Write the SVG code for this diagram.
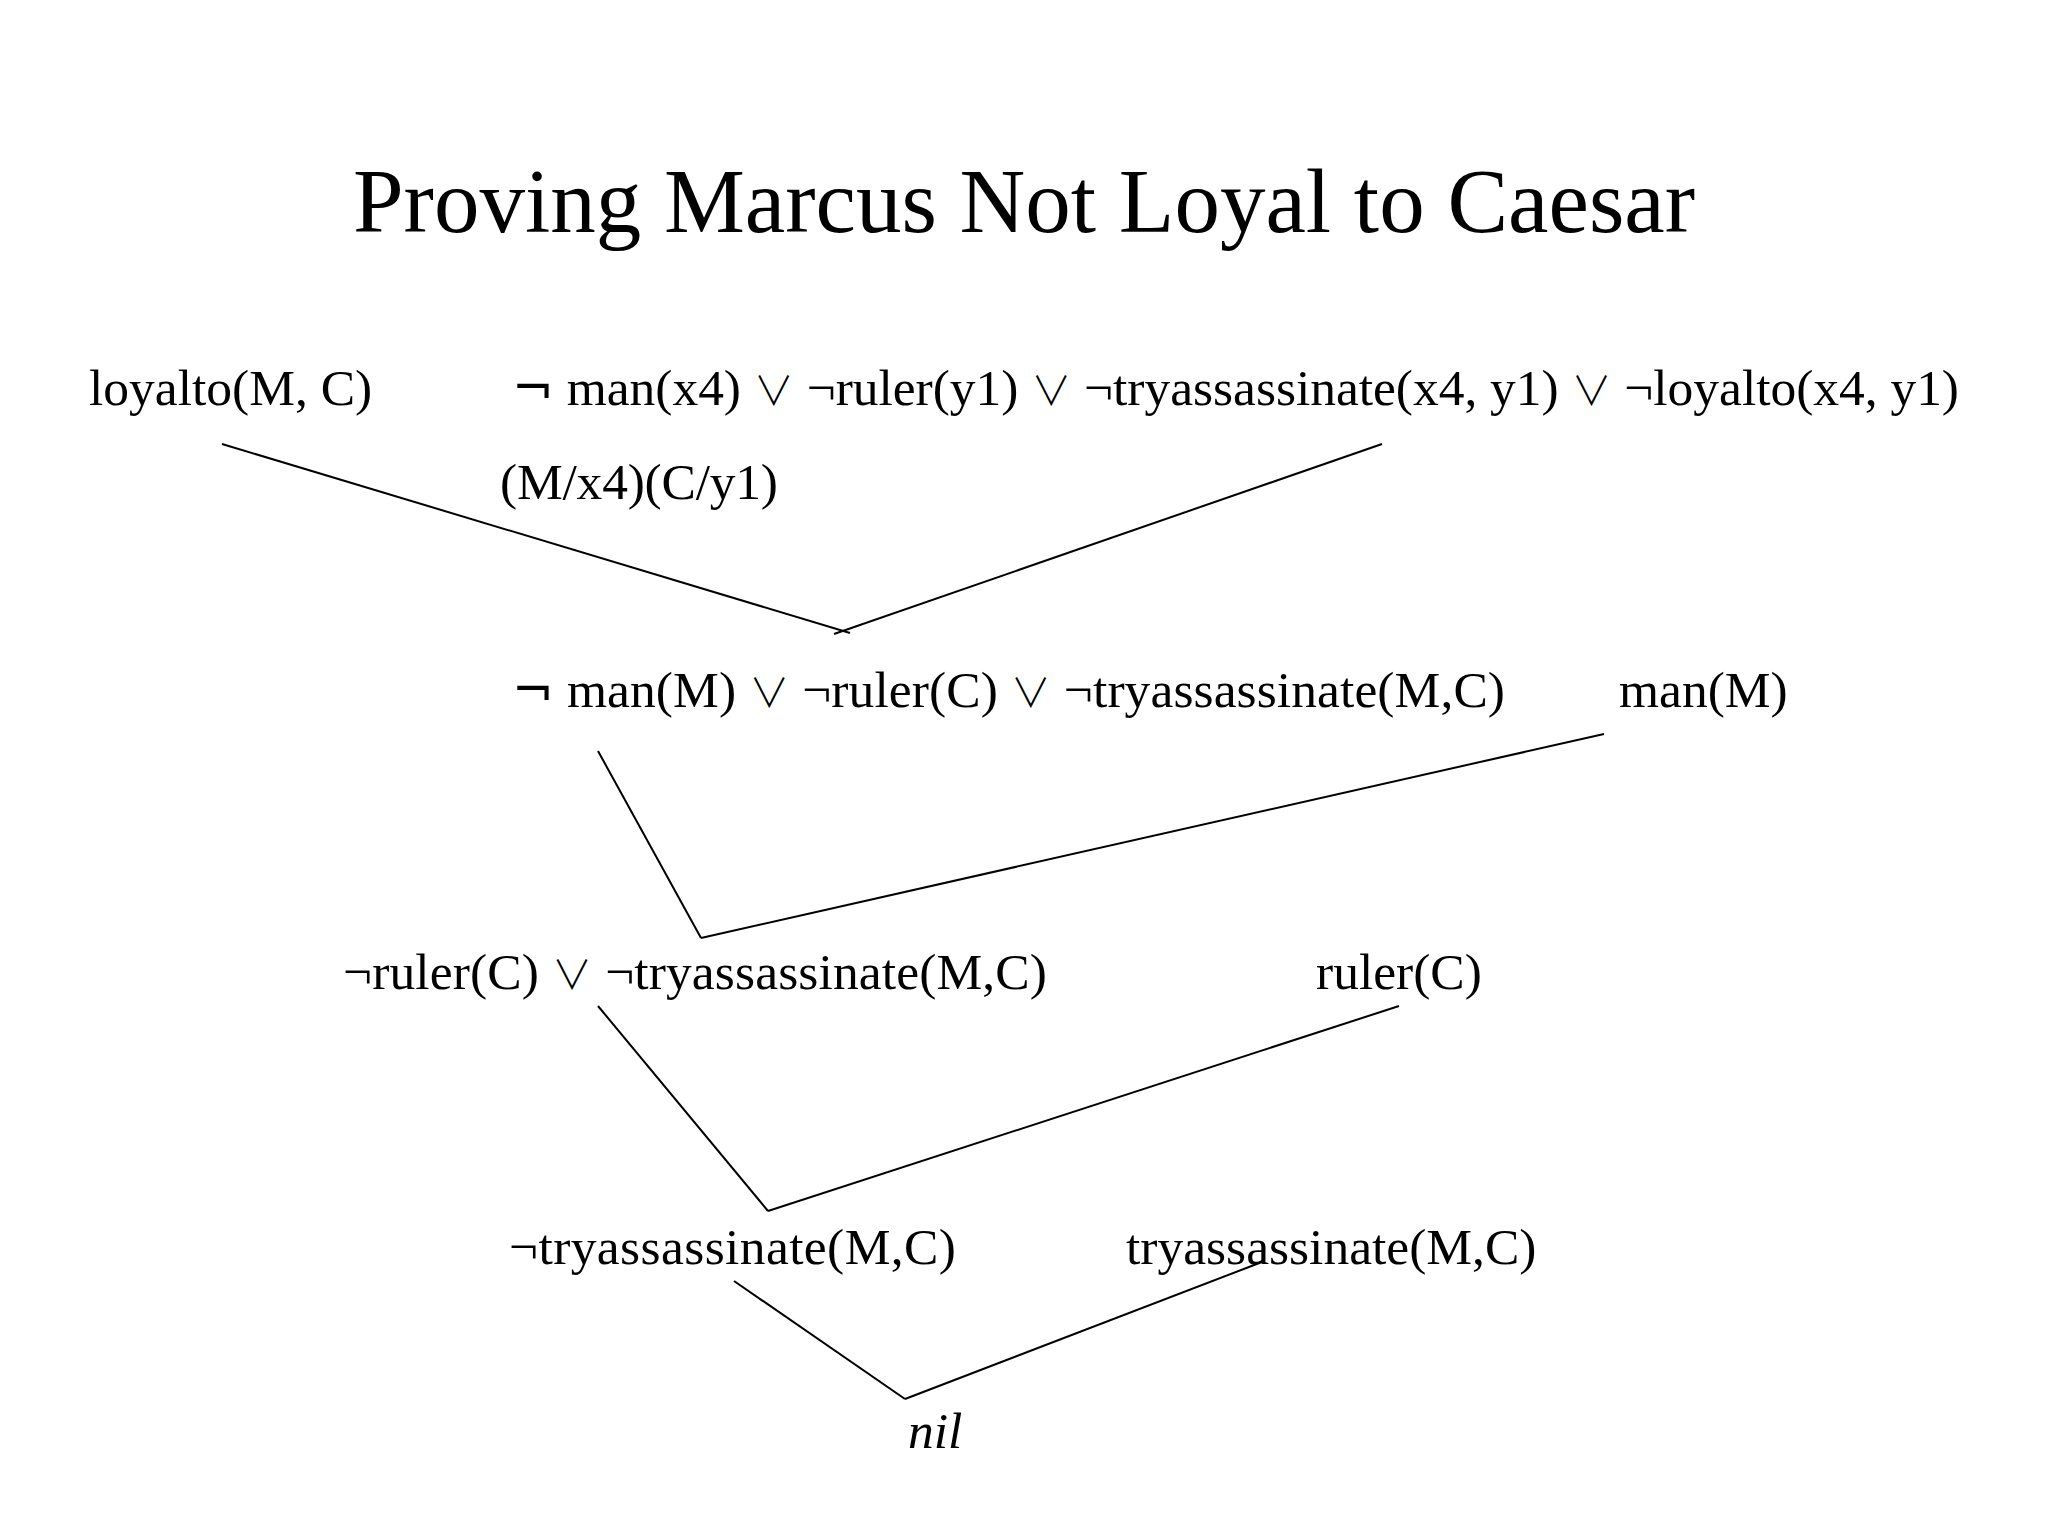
<svg xmlns="http://www.w3.org/2000/svg" width="2048" height="1536" viewBox="0 0 2048 1536">
<style>
  text { font-family: "Liberation Serif", "Times New Roman", "DejaVu Serif", serif; fill: #000; }
  .title { font-size: 91px; }
  .t { font-size: 51.5px; }
  .it { font-style: italic; }
  .or { font-family: "Noto Sans CJK JP", "DejaVu Sans", sans-serif; font-weight: 300; font-size: 40px; }
  .neg { font-family: "DejaVu Sans", "Noto Sans", sans-serif; font-size: 50px; }
  .conn line { stroke: #000; stroke-width: 2; fill: none; }
</style>
<rect width="2048" height="1536" fill="#fff"/>
<g id="title"><text class="title" x="1024" y="232" text-anchor="middle">Proving Marcus Not Loyal to Caesar</text></g>
<g id="n-loyalto"><text class="t" x="89" y="405">loyalto(M, C)</text></g>
<g id="n-axiom"><text class="t" x="512" y="405" textLength="1447" lengthAdjust="spacing"><tspan class="neg">¬</tspan> man(x4) <tspan class="or">∨</tspan> ¬ruler(y1) <tspan class="or">∨</tspan> ¬tryassassinate(x4, y1) <tspan class="or">∨</tspan> ¬loyalto(x4, y1)</text></g>
<g id="n-subst"><text class="t" x="500" y="499" textLength="278" lengthAdjust="spacing">(M/x4)(C/y1)</text></g>
<g id="n-r1"><text class="t" x="512" y="707" textLength="993" lengthAdjust="spacing"><tspan class="neg">¬</tspan> man(M) <tspan class="or">∨</tspan> ¬ruler(C) <tspan class="or">∨</tspan> ¬tryassassinate(M,C)</text></g>
<g id="n-man"><text class="t" x="1619" y="707">man(M)</text></g>
<g id="n-r2"><text class="t" x="343" y="989" textLength="704" lengthAdjust="spacing">¬ruler(C) <tspan class="or">∨</tspan> ¬tryassassinate(M,C)</text></g>
<g id="n-ruler"><text class="t" x="1316" y="989">ruler(C)</text></g>
<g id="n-r3"><text class="t" x="509" y="1264" textLength="447" lengthAdjust="spacing">¬tryassassinate(M,C)</text></g>
<g id="n-try"><text class="t" x="1126" y="1264">tryassassinate(M,C)</text></g>
<g id="n-nil"><text class="t it" x="908" y="1448">nil</text></g>
<g id="connectors" class="conn">
  <line x1="222" y1="444" x2="850" y2="633"/>
  <line x1="1382" y1="444" x2="834" y2="634"/>
  <line x1="598" y1="751" x2="701" y2="938"/>
  <line x1="1604" y1="734" x2="701" y2="938"/>
  <line x1="598" y1="1006" x2="768" y2="1211"/>
  <line x1="1399" y1="1006" x2="768" y2="1211"/>
  <line x1="734" y1="1281" x2="905" y2="1399"/>
  <line x1="1262" y1="1262" x2="905" y2="1399"/>
</g>
</svg>
